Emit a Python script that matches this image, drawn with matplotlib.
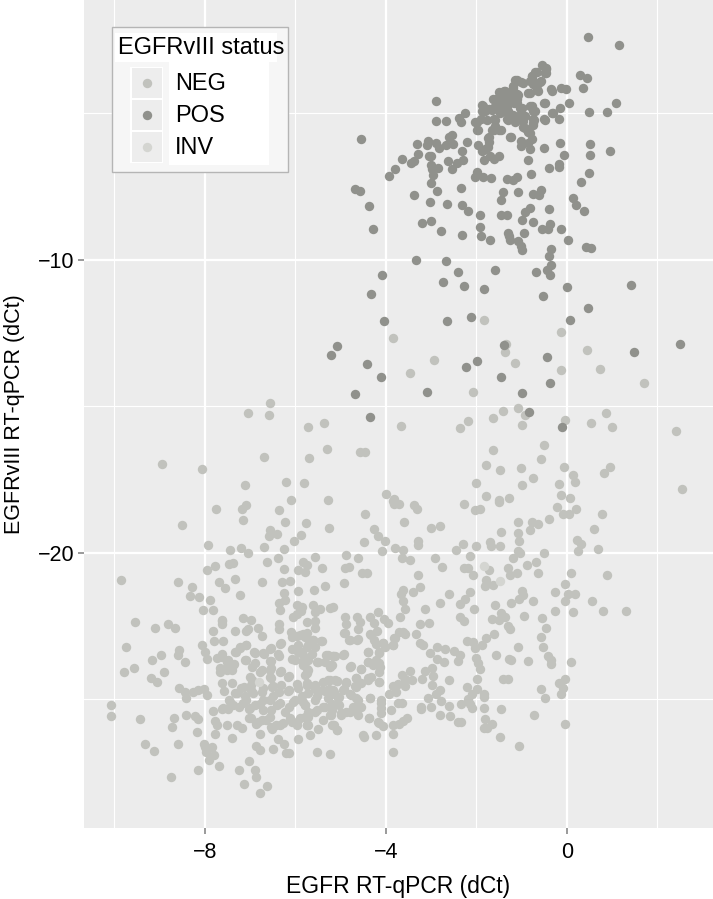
import matplotlib
matplotlib.use("Agg")
import matplotlib.pyplot as plt
from matplotlib.patches import Rectangle

plt.rcParams['font.family'] = ['Liberation Sans', 'DejaVu Sans']

pos_points = [(.46,-2.39),(1.15,-2.68),(-.55,-3.35),(-.46,-3.48),(-.48,-3.61),(-.70,-3.58),(-.77,-3.73),(.30,-3.70),(.45,-3.80),
(-1.14,-3.86),(-1.01,-3.92),(-.81,-3.90),(-.59,-3.92),(-.74,-3.98),(-1.18,-4.13),(-.85,-4.30),(-.65,-4.18),(-.35,-4.18),(-.13,-4.13),
(-.01,-4.16),(.35,-4.15),(-1.51,-4.27),(-1.38,-4.24),(-1.10,-4.35),(-1.64,-4.52),(-1.52,-4.47),(-1.36,-4.52),(-1.21,-4.52),(-1.10,-4.50),
(-.51,-4.63),(.04,-4.63),(1.09,-4.66),(-2.90,-4.57),(-1.88,-4.73),(-1.58,-4.75),(-1.43,-4.69),(-1.29,-4.69),(-1.16,-4.64),(-1.03,-4.81),
(-.81,-4.75),(-.74,-4.92),(-.15,-4.83),(-.33,-4.98),(.48,-4.94),(.88,-4.94),(-2.26,-4.98),(-1.88,-4.92),(-1.73,-4.86),(-1.51,-4.86),
(-1.36,-4.92),(-2.38,-5.15),(-2.33,-5.30),(-2.90,-5.26),(-2.67,-5.26),(-2.04,-5.30),(-1.89,-5.18),(-1.62,-5.20),(-1.32,-5.20),(-1.14,-5.30),
(-.97,-5.09),(-.97,-5.26),(-.75,-5.20),(-.75,-5.34),(-.51,-5.20),(-.18,-5.18),(-1.99,-5.55),(-1.65,-5.57),(-1.49,-5.58),(-1.59,-5.43),
(-.96,-5.45),(-.85,-5.64),(-2.54,-5.75),(-2.61,-5.80),(-1.74,-5.83),(-1.26,-5.80),(-.77,-5.86),(-4.54,-5.88),(-3.32,-6.03),(-3.06,-5.94),
(-3.08,-6.08),(-2.90,-6.02),(-2.83,-6.17),(-2.67,-6.07),(-2.52,-6.06),(-2.21,-5.98),(-1.71,-5.97),(-1.01,-5.94),(-1.01,-6.11),(-.85,-6.00),
(-1.97,-6.09),(-1.81,-6.20),(-1.75,-6.14),(-.15,-6.01),(-.51,-6.18),(-.81,-6.23),(.51,-6.06),(.96,-6.28),(-2.32,-6.28),(-3.29,-6.38),
(-3.05,-6.45),(-3.00,-6.45),(-3.64,-6.57),(-3.38,-6.63),(-3.44,-6.70),(-3.80,-6.89),(-3.92,-7.14),(-2.63,-6.64),(-2.30,-6.60),(-2.43,-6.70),
(-3.01,-6.76),(-2.85,-6.88),(-2.98,-6.91),(-2.54,-6.91),(-2.96,-7.10),(-3.01,-7.36),(-1.88,-6.28),(-1.49,-6.44),(-1.69,-6.45),(-1.84,-6.59),
(-1.62,-6.57),(-.85,-6.60),(-.07,-6.41),(.51,-6.43),(-.17,-6.74),(-.18,-6.82),(-.40,-6.85),(-1.99,-7.00),(-2.04,-7.17),(-1.86,-7.18),
(-1.68,-7.20),(-1.32,-7.23),(-1.10,-7.16),(-1.18,-7.27),(-.79,-7.07),(.48,-7.05),(.32,-7.34),(-4.68,-7.57),(-4.56,-7.64),(-2.33,-7.53),
(-2.88,-7.64),(-3.38,-7.80),(-3.03,-8.01),(-2.64,-8.08),(-2.32,-8.13),(-2.19,-8.33),(-4.38,-8.16),(-4.28,-8.93),(-1.42,-7.70),(-1.46,-7.95),
(-1.07,-7.67),(-.74,-7.74),(-.58,-7.63),(-.61,-7.77),(.13,-7.88),(.20,-8.14),(.39,-8.34),(-.39,-8.26),(-.81,-8.23),(-.93,-8.35),
(-1.93,-8.48),(-1.45,-8.47),(-1.32,-8.47),(-.99,-8.64),(-.75,-8.69),(-.38,-8.78),(-.54,-8.93),(-.42,-8.93),(-.13,-8.95),(-3.20,-8.75),
(-3.01,-8.67),(-2.77,-9.02),(-2.32,-9.15),(-1.93,-8.88),(-1.90,-9.19),(-1.69,-9.31),(-1.29,-9.07),(-1.26,-9.32),(-1.27,-9.2),(-.94,-9.07),
(-1.07,-9.35),(-1.01,-9.52),(-1.00,-9.66),(.03,-9.31),(.42,-9.55),(.53,-9.61),(-.36,-9.64),(-.40,-9.88),(-3.33,-10.0),(-2.67,-10.05),
(-2.40,-10.41),(-1.58,-10.34),(-.68,-10.42),(-.44,-10.33),(-.35,-10.19),(-.37,-10.53),(-4.09,-10.52),(-2.74,-10.74),(-2.28,-10.88),(-1.84,-11.0),
(-4.33,-11.18),(-.53,-11.23),(.01,-10.94),(1.41,-10.86),(.47,-11.65),(-4.03,-12.08),(-2.65,-12.08),(-2.11,-11.94),(.08,-12.05),(-5.07,-12.95),
(-5.22,-13.23),(-4.41,-13.55),(-4.10,-13.99),(-4.69,-14.58),(-3.08,-14.51),(-2.23,-13.65),(-1.99,-13.45),(-1.45,-14.0),(-.44,-13.33),(-.38,-14.19),
(-.98,-14.53),(-.83,-15.19),(-.11,-15.69),(-4.35,-15.35),(1.48,-13.15),(2.50,-12.88),(-1.39,-12.90)]

# second pass over the crowded top cluster
pos_points_dense = [(-.45,-3.45),(-.45,-3.62),(-.67,-3.6),(-.78,-3.74),(-.56,-3.91),(-.74,-3.91),(-1.11,-3.85),(-.96,-3.97),(-1.18,-4.08),
(-.81,-4.31),(-.63,-4.22),(-.32,-4.22),(-1.37,-4.25),(-1.48,-4.31),(-1.26,-4.36),(-1.07,-4.36),(-1.59,-4.54),(-1.4,-4.59),(-1.18,-4.59),
(-1.33,-4.76),(-1.51,-4.71),(-1.11,-4.65),(-1.85,-4.76),(-1.81,-4.93),(-1.66,-4.88),(-1.48,-4.99),(-1.29,-4.93),(-1.18,-5.05),(-1.0,-4.82),
(-1.03,-5.05),(-1.11,-5.22),(-.92,-5.1),(-.78,-4.74),(-.70,-4.93),(-.48,-4.65),(-.31,-4.97),(-.48,-5.22),(-.72,-5.22),(-.74,-5.39),(-1.99,-5.31),
(-1.96,-5.56),(-1.77,-5.22),(-1.59,-5.22),(-1.29,-5.22),(-1.62,-5.56),(-1.46,-5.58),(-.92,-5.5),(-.81,-5.67),(-1.71,-5.81),(-1.24,-5.81)]

neg_points = [(-1.83,-12.06),(-.13,-12.47),(-3.84,-12.67),(-1.35,-12.86),(-1.36,-13.13),(.45,-13.08),(-2.94,-13.40),(-1.15,-13.51),(-.14,-13.75),
(.74,-13.72),(-3.46,-13.85),(1.70,-14.19),(-2.07,-14.52),(-1.07,-15.07),(-1.40,-15.16),(-.93,-15.28),(.87,-15.23),(-1.64,-15.41),(-2.19,-15.49),
(-.04,-15.45),(.53,-15.57),(.99,-15.70),(-.98,-15.64),(-2.36,-15.75),(2.41,-15.83),(-5.71,-15.70),(-5.37,-15.57),(-3.66,-15.66),(-.51,-16.32),
(-1.63,-16.49),(-5.29,-16.47),(-4.57,-16.55),(-4.46,-16.56),(-5.70,-16.76),(-.57,-16.78),(-1.78,-17.0),(-1.47,-17.18),(-1.01,-17.10),(-.06,-17.06),
(.95,-17.08),(.83,-17.26),(.14,-17.34),(.17,-17.58),(-.74,-17.44),(-.18,-17.65),(-.98,-17.70),(-2.01,-17.63),(-5.81,-17.63),(2.55,-17.83),
(-4.0,-17.99),(-3.83,-18.17),(-1.78,-18.05),(-1.49,-18.19),(-1.27,-18.14),(-.14,-18.01),(.07,-18.13),(-5.28,-18.19),
(-3.85,-18.23),(-3.72,-18.34),(-3.81,-18.32),(-3.38,-18.38),(-3.31,-18.51),(-2.28,-18.34),(-1.49,-18.26),(-2.02,-18.55),(-1.93,-18.49),
(-.21,-18.43),(.21,-18.51),(-.08,-18.68),(.05,-18.67),(.78,-18.68),(-4.46,-18.68),(-3.59,-18.93),(-.40,-18.85),(-1.07,-18.95),(-.76,-18.94),
(-.63,-19.01),(-.82,-19.23),(.60,-19.17),(-3.0,-19.14),(-2.80,-19.08),(-4.27,-19.20),(-4.18,-19.43),(-4.02,-19.59),(-4.48,-19.64),(-1.46,-19.28),
(-1.08,-19.31),(-1.05,-19.59),(-3.30,-19.60),(-3.30,-19.74),(-2.30,-19.69),(-2.46,-19.90),(-2.01,-19.77),(-1.69,-19.63),(-1.68,-19.76),(-1.47,-19.76),
(.23,-19.57),(.31,-19.69),(.25,-19.93),(.69,-19.88),(-3.79,-19.84),(-3.63,-19.90),(-4.09,-19.93),(-4.88,-20.07),(-4.61,-20.17),(-3.65,-20.19),
(-3.47,-20.23),(-2.92,-20.19),(-2.76,-20.47),(-2.15,-20.10),(-1.07,-19.94),(-1.03,-20.02),(-1.18,-20.18),(-.51,-20.01),(-.68,-20.30),(-.87,-20.43),
(-1.30,-20.50),(-1.11,-20.68),(-1.25,-20.75),(-.64,-20.68),(.10,-20.67),(.89,-20.74),(-1.72,-20.58),(-2.28,-20.51),(-2.18,-20.53),(-2.08,-20.77),
(-4.90,-20.51),(-4.81,-20.48),(-4.53,-20.68),(-4.42,-20.69),(-4.92,-21.02),(-3.28,-20.77),(-1.78,-20.93),(-1.80,-21.13),(-1.64,-21.09),(-.05,-21.07),
(-3.62,-21.27),(-3.66,-21.42),(-3.41,-21.34),(-3.25,-21.16),(-3.63,-21.65),(-3.58,-21.90),(-2.61,-21.42),(-2.81,-21.70),(-3.13,-21.93),(-2.13,-21.34),
(-2.24,-21.59),(-2.37,-21.76),(-2.06,-21.93),(-.99,-21.31),(-.96,-21.45),(-1.05,-21.59),(-1.24,-21.72),(-.74,-21.63),(-1.58,-21.78),(-.26,-21.35),
(.03,-21.39),(.18,-21.39),(-.05,-21.64),(.55,-21.63),(-.26,-21.98),(.13,-22.03),(.81,-21.97),(1.30,-21.99),(-5.17,-21.86),(-4.18,-22.03),
(-3.68,-22.19),(-2.37,-22.19),(-2.28,-22.33),(-1.45,-22.05),(-1.66,-22.26),(-1.36,-22.18),(-1.51,-22.30),(-.95,-22.16),(-.54,-22.23),(-.45,-22.55),
(-1.29,-22.49),(-1.25,-22.61),(-.56,-22.86),(-.52,-23.22),(-4.91,-22.19),(-4.89,-22.44),(-4.64,-22.18),(-4.57,-22.35),(-4.35,-22.20),(-4.26,-22.39),
(-4.05,-22.27),(-3.96,-22.39),(-3.25,-22.42),(-3.05,-22.41),(-4.92,-22.75),(-4.82,-22.98),(-4.64,-22.98),(-4.62,-22.61),(-4.20,-22.66),(-4.34,-22.78),
(-4.26,-22.98),(-4.22,-23.11),(-4.07,-23.09),(-4.01,-23.20),(-3.85,-23.15),(-3.82,-22.89),(-3.71,-22.69),(-3.57,-22.76),(-3.34,-22.76),(-3.25,-23.07),
(-3.17,-23.15),(-3.03,-23.43),(-2.86,-23.22),(-2.69,-23.27),(-2.50,-23.36),(-2.37,-23.49),(-2.88,-23.63),(-2.72,-23.72),(-2.40,-23.69),(-2.20,-23.01),
(-2.07,-23.03),(-2.04,-23.26),(-1.87,-23.13),(-1.79,-22.91),(-1.62,-22.78),(-2.01,-23.59),(-1.97,-23.75),(-1.93,-23.95),(-1.56,-23.48),(-1.08,-23.22),
(-1.27,-23.63),(-1.23,-23.64),(-.85,-23.69),(-.41,-23.51),(-.36,-23.66),(-.35,-23.80),(.09,-23.72),(-1.99,-24.30),(-1.42,-24.31),(-1.30,-24.30),
(-.03,-24.31),(-.17,-24.43),(-.08,-24.60),(-.12,-24.80),(-.56,-24.66),(-.49,-24.95),(-2.21,-24.58),(-2.10,-24.80),(-1.99,-24.63),(-1.84,-24.80),
(-1.84,-24.93),(-2.60,-24.33),(-2.97,-24.51),(-2.81,-24.68),(-2.90,-24.80),(-3.06,-24.95),(-2.96,-24.19),(-2.97,-23.94),(-3.13,-24.02),(-3.19,-24.31),
(-3.46,-24.02),(-3.43,-24.34),(-3.65,-24.17),(-3.57,-24.32),(-3.58,-24.53),(-3.74,-24.48),(-3.85,-24.55),(-3.78,-24.76),(-3.94,-24.80),(-4.11,-25.02),
(-3.73,-25.11),(-3.65,-25.14),(-2.78,-25.06),(-2.61,-25.23),(-3.01,-25.25),(-3.23,-25.25),(-3.23,-25.34),(-2.81,-25.53),(-2.59,-25.58),(-2.40,-25.78),
(-2.33,-25.78),(-2.33,-25.16),(-2.18,-25.0),(-2.13,-25.16),(-2.10,-25.31),(-1.82,-25.28),(-1.46,-25.33),(-1.80,-25.66),(-1.66,-25.85),(-1.84,-25.98),
(-1.76,-25.99),(-.72,-25.55),(-.05,-25.85),(-1.47,-26.28),(-1.05,-26.59),(-4.34,-24.97),(-4.11,-25.14),(-4.11,-25.31),(-4.10,-25.45),(-3.88,-25.36),
(-4.38,-25.64),(-4.17,-25.78),(-4.07,-25.91),(-3.84,-25.88),(-3.71,-25.85),(-3.62,-25.73),(-3.54,-25.65),(-4.50,-26.22),(-4.48,-26.28),(-4.21,-26.23),
(-3.85,-26.18),(-3.84,-26.78),(-4.40,-23.40),(-4.16,-23.41),(-4.40,-23.74),(-4.15,-23.77),(-4.55,-23.97),(-4.80,-23.88),(-4.15,-24.06),(-4.66,-24.28),
(-4.33,-24.23),(-4.40,-24.34),(-4.16,-24.40),(-4.88,-24.40),(-5.08,-24.38),(-5.16,-23.51),(-4.94,-23.48),(-5.21,-23.83),(-4.66,-24.57),(-4.92,-24.63),
(-5.16,-24.80),(-5.03,-24.91),(-4.80,-24.80),(-4.62,-25.02),(-5.03,-25.19),(-4.73,-25.25),(-4.55,-25.25),(-4.88,-25.42),(-4.62,-25.53),(-5.0,-25.53),
(-5.21,-25.53),(-5.16,-25.88),(-5.08,-26.05),(-5.25,-24.63),
(-7.05,-15.21),(-6.56,-14.87),(-6.58,-15.30),(-6.70,-16.72),(-8.95,-16.97),(-8.06,-17.15),(-7.12,-17.67),(-6.20,-17.57),(-6.09,-18.20),(-7.10,-18.37),
(-7.17,-18.51),(-7.75,-18.51),(-6.36,-18.55),(-7.15,-18.88),(-6.23,-18.94),(-8.51,-19.04),(-5.76,-18.99),(-5.26,-19.16),(-6.56,-19.23),(-6.59,-19.43),
(-6.40,-19.37),(-5.88,-19.38),(-6.04,-19.58),(-7.94,-19.73),(-7.44,-19.91),(-7.20,-19.83),(-7.05,-19.99),(-6.70,-19.81),(-6.26,-19.87),(-6.38,-20.16),
(-6.62,-20.32),(-5.56,-20.14),(-5.84,-20.31),(-5.75,-20.42),(-5.42,-20.50),(-6.26,-20.56),(-5.93,-20.60),(-5.78,-20.64),(-7.77,-20.46),(-7.96,-20.60),
(-7.47,-20.39),(-7.38,-20.36),(-9.85,-20.91),(-8.59,-20.99),(-8.29,-21.18),(-7.68,-21.0),(-7.55,-21.20),(-7.33,-20.88),(-6.74,-21.0),(-6.29,-20.98),
(-6.12,-20.95),(-8.32,-21.47),(-8.13,-21.50),(-7.88,-21.61),(-7.23,-21.44),(-8.05,-21.94),(-7.83,-21.94),(-6.25,-21.38),(-5.93,-21.31),(-5.59,-21.26),
(-5.35,-21.12),(-6.35,-21.70),(-6.22,-21.62),(-6.34,-21.94),(-5.96,-21.79),(-5.85,-21.85),(-5.87,-21.98),(-5.96,-22.07),(-6.06,-22.19),(-5.62,-21.79),
(-5.45,-21.93),(-5.56,-22.02),(-5.23,-21.87),(-9.54,-22.35),(-7.61,-22.28),(-7.15,-22.22),(-6.97,-22.30),
(-9.11,-22.56),(-8.82,-22.44),(-8.65,-22.58),(-7.63,-22.31),(-7.61,-22.42),(-7.83,-22.67),(-7.33,-22.65),(-7.04,-22.59),(-7.08,-22.67),(-6.83,-22.57),
(-6.73,-22.84),(-6.35,-22.42),(-6.37,-22.59),(-5.74,-22.36),(-5.56,-22.56),(-5.56,-22.31),(-6.10,-22.70),(-5.96,-22.84),(-5.84,-22.76),(-7.80,-23.02),
(-7.59,-23.0),(-9.75,-23.22),(-8.07,-23.16),(-8.0,-23.39),(-7.96,-23.61),(-8.58,-23.33),(-8.60,-23.47),(-8.97,-23.49),(-9.16,-23.67),(-8.43,-23.73),
(-9.57,-23.93),(-9.78,-24.05),(-8.91,-24.06),(-9.19,-24.26),(-9.05,-24.40),(-8.56,-24.61),(-8.43,-24.75),(-8.42,-24.94),(-8.27,-24.75),(-8.16,-24.67),
(-8.01,-24.64),(-7.95,-24.86),(-10.07,-25.20),(-10.07,-25.56),(-9.44,-25.66),(-8.69,-25.63),(-8.72,-25.93),(-8.42,-25.55),(-8.21,-25.58),(-8.15,-25.66),
(-8.18,-26.10),(-9.33,-26.52),(-9.13,-26.77),(-8.59,-26.51),(-8.02,-26.51),(-7.99,-26.63),(-7.85,-26.63),(-7.98,-26.80),(-7.79,-26.89),(-7.90,-27.08),
(-8.14,-27.42),(-8.75,-27.66),(-7.68,-27.28),(-7.25,-27.40),(-7.03,-27.10),(-6.89,-27.42),(-6.88,-27.65),(-7.14,-27.88),(-6.62,-27.95),(-6.79,-28.18),
(-7.82,-25.38),(-7.77,-25.74),(-7.72,-25.89),(-7.52,-25.89),(-7.77,-26.17),(-7.41,-26.32),(-7.28,-25.86),(-7.17,-25.97),(-6.79,-26.19),(-6.88,-26.60),
(-6.77,-26.74),(-6.49,-26.68),(-6.39,-26.34),(-6.26,-26.51),(-6.21,-26.83),(-6.15,-26.83),(-5.93,-26.34),(-5.67,-26.23),(-5.52,-26.80),(-5.23,-26.88),
(-7.72,-23.58),(-7.61,-23.44),(-7.50,-23.73),(-7.36,-23.78),(-7.54,-23.95),(-7.39,-23.99),(-7.67,-24.07),(-7.32,-23.39),(-7.22,-23.22),(-7.08,-23.16),
(-7.12,-23.67),(-6.95,-23.90),(-6.92,-23.39),(-6.70,-23.44),(-6.56,-23.27),(-6.37,-23.53),(-6.33,-23.10),(-6.55,-23.69),(-6.73,-23.99),(-6.55,-24.01),
(-6.33,-24.05),(-6.16,-24.22),(-6.07,-23.27),(-5.93,-23.16),(-5.71,-23.16),(-5.60,-22.99),(-5.44,-23.01),(-6.07,-23.61),(-5.85,-23.39),(-5.63,-23.44),
(-5.82,-23.73),(-5.74,-23.95),(-5.78,-24.18),(-5.52,-23.73),(-5.32,-23.50),(-5.17,-23.52),(-5.34,-23.73),(-5.23,-23.88),(-7.63,-24.44),(-7.39,-24.44),
(-7.58,-24.73),(-7.28,-24.78),(-7.14,-24.58),(-6.95,-24.35),(-6.99,-24.69),(-6.73,-24.75),(-6.55,-24.24),(-6.51,-24.58),(-6.37,-24.75),(-6.15,-24.69),
(-5.96,-24.47),(-5.74,-24.52),(-5.56,-24.64),(-5.27,-24.35),(-5.12,-24.35),(-5.41,-24.69),(-5.15,-24.75),(-7.47,-25.03),(-7.61,-25.32),(-7.48,-25.32),
(-7.25,-25.26),(-7.10,-25.03),(-7.03,-25.32),(-6.77,-25.15),(-6.55,-25.03),(-6.40,-25.2),(-6.15,-25.26),(-6.0,-25.03),(-5.78,-25.2),(-5.56,-25.03),
(-5.38,-25.26),(-5.19,-25.15),(-7.03,-25.63),(-6.88,-25.83),(-6.73,-25.72),(-6.55,-25.6),(-6.51,-26.0),(-6.33,-25.89),(-6.07,-25.77),(-5.96,-25.77),
(-5.78,-25.6),(-5.71,-25.89),(-5.56,-25.43),(-5.49,-26.0),(-5.23,-25.55),(-5.15,-25.89),(-5.08,-26.06)]

# second pass over the crowded bottom cluster
neg_points_dense = [(-7.23,-23.26),(-7.08,-23.14),(-7.34,-23.37),(-7.63,-23.54),(-7.67,-23.94),(-7.48,-23.65),(-7.37,-23.82),(-7.52,-23.99),
(-6.89,-23.43),(-6.71,-23.43),(-6.53,-23.26),(-6.31,-23.09),(-6.38,-23.45),(-6.53,-23.68),(-7.08,-23.65),(-6.89,-23.77),(-6.78,-24.05),(-7.0,-24.22),
(-6.53,-23.94),(-6.31,-24.03),(-6.14,-24.2),(-6.97,-24.51),(-7.19,-24.62),(-7.34,-24.79),(-7.12,-24.9),(-6.93,-24.79),(-6.71,-24.62),(-6.53,-24.28),
(-6.49,-24.56),(-6.31,-24.51),(-6.71,-25.02),(-6.49,-24.9),(-6.34,-25.13),(-6.16,-24.73),(-5.94,-24.62),(-5.75,-24.45),(-6.05,-25.08),(-5.83,-25.08),
(-6.23,-25.42),(-6.53,-25.36),(-6.71,-25.36),(-6.89,-25.19),(-7.0,-25.30),(-7.15,-25.13),(-7.45,-25.08),(-7.59,-25.3),(-7.37,-25.19),(-6.97,-25.65),
(-6.82,-25.76),(-6.64,-25.7),(-6.42,-25.87),(-6.12,-25.65),(-5.9,-25.65),(-5.71,-25.42),(-5.97,-25.87),(-6.27,-25.82),(-6.53,-25.93),(-5.75,-25.87),
(-5.94,-23.37),(-5.75,-23.2),(-6.01,-23.65),(-5.83,-23.71),(-5.72,-24.0),(-6.08,-22.86),(-5.9,-22.8),(-5.75,-22.74),(-5.79,-22.86),(-5.61,-22.97),
(-5.42,-23.0),(-5.57,-23.2),(-5.83,-23.48),(-5.72,-23.65),(-5.83,-23.82),(-5.75,-24.11),(-5.27,-23.48),(-5.13,-23.51),(-4.92,-23.46),(-5.49,-23.71),
(-5.2,-23.82),(-4.76,-23.85),(-4.39,-23.39),(-4.15,-23.4),(-4.22,-23.65),(-4.39,-23.74),(-4.13,-23.88),(-4.28,-23.82),(-4.54,-23.97),(-4.39,-24.28),
(-4.15,-24.42),(-4.65,-24.28),(-4.54,-24.45),(-5.24,-24.34),(-5.09,-24.36),(-5.38,-24.39),(-5.57,-24.51),(-5.75,-24.51),(-4.87,-24.45),(-4.68,-24.56),
(-5.72,-24.79),(-5.35,-24.73),(-5.16,-24.68),(-4.94,-24.68),(-4.76,-24.85),(-5.86,-24.9),(-5.53,-24.9),(-5.27,-24.96),(-5.05,-24.96),(-4.65,-24.96),
(-4.34,-24.96),(-5.79,-25.19),(-5.53,-25.36),(-5.35,-25.25),(-5.2,-25.36),(-4.98,-25.47),(-4.8,-25.42),(-4.57,-25.25),(-4.68,-25.36),(-5.72,-25.59),
(-5.38,-25.7),(-5.2,-25.87),(-5.75,-25.87),(-4.37,-25.65),(-4.15,-25.82),(-4.91,-22.74),(-4.8,-22.97),(-4.61,-22.95),(-4.32,-22.8),(-4.06,-23.09),
(-3.8,-22.91),(-3.62,-22.69),(-3.84,-23.14)]

inv_points = [(-1.82,-20.45),(-1.47,-20.95),(-6.81,-24.41)]

groups = ['NEG', 'POS', 'INV']
group_colors = {'NEG': '#c1c2bd', 'POS': '#90918c', 'INV': '#d4d5d1'}

neg_all = neg_points + neg_points_dense
pos_all = pos_points + pos_points_dense

fig = plt.figure(figsize=(7.13, 8.99), dpi=100)
ax = fig.add_axes([84 / 713, 71 / 899, 629 / 713, 828 / 899])
ax.set_facecolor('#ececec')

ax.scatter(*zip(*neg_all), s=46, color=group_colors['NEG'], linewidths=0, zorder=3)
ax.scatter(*zip(*inv_points), s=46, color=group_colors['INV'], linewidths=0, zorder=3)
ax.scatter(*zip(*pos_all), s=46, color=group_colors['POS'], linewidths=0, zorder=3)

ax.set_xlim(-10.67, 3.23)
ax.set_ylim(-29.39, -1.13)
ax.set_xticks([-8, -4, 0])
ax.set_xticks([-10, -6, -2, 2], minor=True)
ax.set_yticks([-20, -10])
ax.set_yticks([-25, -15, -5], minor=True)
ax.grid(True, which='major', color='white', lw=1.6, zorder=1)
ax.grid(True, which='minor', color='white', lw=0.8, zorder=1)
ax.set_axisbelow(True)
for s in ax.spines.values():
    s.set_visible(False)
ax.tick_params(which='minor', length=0)
ax.tick_params(which='major', length=4, width=1.1, color='#7f7f7f', labelsize=15.5, labelcolor='black', pad=3)
ax.tick_params(axis='x', which='major', pad=6)
ax.set_xlabel('EGFR RT-qPCR (dCt)', fontsize=16.5, labelpad=9)
ax.set_ylabel('EGFRvIII RT-qPCR (dCt)', fontsize=15.5, labelpad=9)

# legend, drawn by hand to get the ggplot look (limits are image pixels)
leg = fig.add_axes([112 / 713, 1 - 172 / 899, 176 / 713, 145 / 899], zorder=5)
leg.set_xlim(112, 288)
leg.set_ylim(172, 27)
leg.axis('off')
leg.add_patch(Rectangle((112, 27), 176, 145, fc='#f6f6f6', ec='#b5b5b5', lw=1, clip_on=False))
leg.add_patch(Rectangle((115, 33), 162, 29, fc='white', ec='none'))
leg.add_patch(Rectangle((169, 62), 100, 103, fc='white', ec='none'))
leg.add_patch(Rectangle((130, 67), 33, 96, fc='white', ec='none'))
leg.text(118, 47.5, 'EGFRvIII status', fontsize=17, va='center', ha='left')
for g, yk in zip(groups, [83, 115, 147]):
    leg.add_patch(Rectangle((131.5, yk - 15), 30, 30, fc='#ededed', ec='none'))
    leg.scatter([146.5], [yk], s=46, color=group_colors[g], linewidths=0)
    leg.text(175, yk + 1, g, fontsize=17, va='center', ha='left')

fig.savefig('out.png', dpi=100)
